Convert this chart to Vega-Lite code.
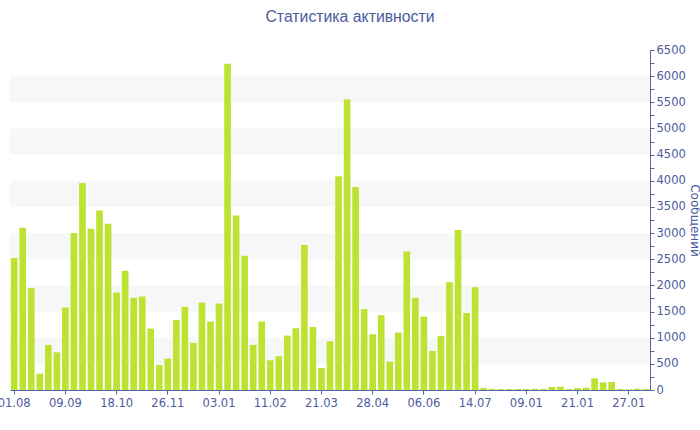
{
  "$schema": "https://vega.github.io/schema/vega-lite/v6.json",
  "width": 640,
  "height": 340,
  "autosize": "none",
  "padding": {"left": 10, "top": 50, "right": 50, "bottom": 40},
  "background": "white",
  "title": {
    "text": "Статистика активности",
    "font": "Liberation Sans",
    "fontSize": 15.8,
    "fontWeight": "normal",
    "color": "#4c5b9e",
    "anchor": "middle",
    "dx": 20,
    "offset": 18
  },
  "config": {
    "view": {"stroke": null},
    "axis": {
      "labelFont": "DejaVu Sans",
      "labelFontSize": 11.5,
      "labelColor": "#4c5b9e",
      "titleFont": "DejaVu Sans",
      "titleFontSize": 12,
      "titleFontWeight": "normal",
      "titleColor": "#4c5b9e",
      "domainColor": "#5468a6",
      "tickColor": "#5468a6",
      "grid": false
    }
  },
  "layer": [
    {
      "data": {"values": [
        {"lo": 500, "hi": 1000}, {"lo": 1500, "hi": 2000}, {"lo": 2500, "hi": 3000},
        {"lo": 3500, "hi": 4000}, {"lo": 4500, "hi": 5000}, {"lo": 5500, "hi": 6000}
      ]},
      "mark": {"type": "rect", "color": "#f7f7f7"},
      "encoding": {
        "y": {
          "field": "lo",
          "type": "quantitative",
          "scale": {"domain": [0, 6500], "nice": false},
          "axis": {
            "orient": "right",
            "title": "Сообщений",
            "titleAngle": 90,
            "titlePadding": 2,
            "values": [0,250,500,750,1000,1250,1500,1750,2000,2250,2500,2750,3000,3250,3500,3750,4000,4250,4500,4750,5000,5250,5500,5750,6000,6250,6500],
            "format": "d",
            "labelExpr": "datum.value % 500 == 0 ? datum.label : ''",
            "labelFlush": false,
            "labelOverlap": false,
            "tickSize": 4,
            "labelPadding": 2
          }
        },
        "y2": {"field": "hi"}
      }
    },
    {
      "data": {"values": [
        {"i": 0, "n": 2525}, {"i": 1, "n": 3100}, {"i": 2, "n": 1947}, {"i": 3, "n": 313},
        {"i": 4, "n": 862}, {"i": 5, "n": 721}, {"i": 6, "n": 1577}, {"i": 7, "n": 3000},
        {"i": 8, "n": 3957}, {"i": 9, "n": 3083}, {"i": 10, "n": 3434}, {"i": 11, "n": 3179},
        {"i": 12, "n": 1864}, {"i": 13, "n": 2279}, {"i": 14, "n": 1762}, {"i": 15, "n": 1787},
        {"i": 16, "n": 1174}, {"i": 17, "n": 479}, {"i": 18, "n": 600}, {"i": 19, "n": 1340},
        {"i": 20, "n": 1589}, {"i": 21, "n": 900}, {"i": 22, "n": 1672}, {"i": 23, "n": 1309},
        {"i": 24, "n": 1653}, {"i": 25, "n": 6236}, {"i": 26, "n": 3338}, {"i": 27, "n": 2566},
        {"i": 28, "n": 862}, {"i": 29, "n": 1309}, {"i": 30, "n": 568}, {"i": 31, "n": 645},
        {"i": 32, "n": 1040}, {"i": 33, "n": 1181}, {"i": 34, "n": 2770}, {"i": 35, "n": 1206},
        {"i": 36, "n": 421}, {"i": 37, "n": 932}, {"i": 38, "n": 4085}, {"i": 39, "n": 5553},
        {"i": 40, "n": 3881}, {"i": 41, "n": 1545}, {"i": 42, "n": 1066}, {"i": 43, "n": 1430},
        {"i": 44, "n": 543}, {"i": 45, "n": 1098}, {"i": 46, "n": 2649}, {"i": 47, "n": 1762},
        {"i": 48, "n": 1404}, {"i": 49, "n": 747}, {"i": 50, "n": 1034}, {"i": 51, "n": 2062},
        {"i": 52, "n": 3057}, {"i": 53, "n": 1474}, {"i": 54, "n": 1966}, {"i": 55, "n": 38},
        {"i": 56, "n": 19}, {"i": 57, "n": 19}, {"i": 58, "n": 19}, {"i": 59, "n": 19},
        {"i": 60, "n": 19}, {"i": 61, "n": 22}, {"i": 62, "n": 22}, {"i": 63, "n": 57},
        {"i": 64, "n": 64}, {"i": 65, "n": 19}, {"i": 66, "n": 38}, {"i": 67, "n": 45},
        {"i": 68, "n": 223}, {"i": 69, "n": 147}, {"i": 70, "n": 153}, {"i": 71, "n": 19},
        {"i": 72, "n": 13}, {"i": 73, "n": 25}, {"i": 74, "n": 19}
      ]},
      "mark": {"type": "bar", "color": "#bde232"},
      "encoding": {
        "x": {
          "field": "i",
          "type": "ordinal",
          "scale": {"paddingInner": 0.22, "paddingOuter": 0.1},
          "axis": {
            "title": null,
            "values": [0, 6, 12, 18, 24, 30, 36, 42, 48, 54, 60, 66, 72],
            "labelExpr": "['01.08','09.09','18.10','26.11','03.01','11.02','21.03','28.04','06.06','14.07','09.01','21.01','27.01'][datum.value / 6]",
            "labelAngle": 0,
            "tickSize": 4,
            "labelPadding": 3
          }
        },
        "y": {
          "field": "n",
          "type": "quantitative",
          "scale": {"domain": [0, 6500], "nice": false},
          "axis": {
            "orient": "right",
            "title": "Сообщений",
            "titleAngle": 90,
            "titlePadding": 2,
            "values": [0,250,500,750,1000,1250,1500,1750,2000,2250,2500,2750,3000,3250,3500,3750,4000,4250,4500,4750,5000,5250,5500,5750,6000,6250,6500],
            "format": "d",
            "labelExpr": "datum.value % 500 == 0 ? datum.label : ''",
            "labelFlush": false,
            "labelOverlap": false,
            "tickSize": 4,
            "labelPadding": 2
          }
        }
      }
    }
  ]
}
